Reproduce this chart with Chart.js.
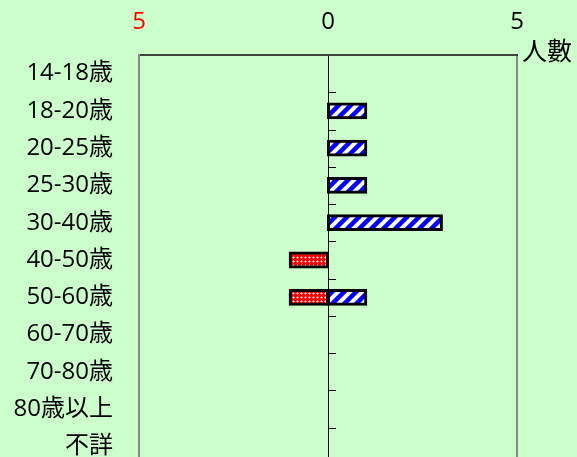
<!DOCTYPE html>
<html>
<head>
<meta charset="utf-8">
<script src="https://cdn.jsdelivr.net/npm/chart.js@4"></script>
<style>
html,body{margin:0;padding:0;background:#ccffcc;overflow:hidden;}
#wrap{width:577px;height:457px;overflow:hidden;}
</style>
</head>
<body>
<div id="wrap"><canvas id="c" width="577" height="470"></canvas></div>
<script>
const categories = ['14-18歳','18-20歳','20-25歳','25-30歳','30-40歳','40-50歳','50-60歳','60-70歳','70-80歳','80歳以上','不詳'];
const blueCounts = [0,1,1,1,3,0,1,0,0,0,0];
const redCounts  = [0,0,0,0,0,1,1,0,0,0,0];
const axisMin = -5, axisMax = 5, axisStep = 5;
const axisTitle = '人數';

function bluePattern(){
  const s = 12, c = document.createElement('canvas');
  c.width = s; c.height = s;
  const g = c.getContext('2d');
  g.fillStyle = '#ffffff'; g.fillRect(0,0,s,s);
  g.strokeStyle = '#0000ff'; g.lineWidth = 4.5;
  for (let x = -s; x <= s; x += s) {
    g.beginPath(); g.moveTo(x - 2, s + 2); g.lineTo(x + s + 2, -2); g.stroke();
  }
  return g.createPattern(c, 'repeat');
}
function redPattern(){
  const s = 4, c = document.createElement('canvas');
  c.width = s; c.height = s;
  const g = c.getContext('2d');
  g.fillStyle = '#ff0000'; g.fillRect(0,0,s,s);
  g.fillStyle = '#ff8080';
  g.fillRect(1,0,1,1); g.fillRect(0,1,1,1); g.fillRect(2,1,1,1); g.fillRect(1,2,1,1);
  g.fillStyle = '#ffffff'; g.fillRect(1,1,1,1);
  return g.createPattern(c, 'repeat');
}

const tickMarks = {
  id: 'tickMarks',
  afterDatasetsDraw(chart){
    const x = chart.scales.x, y = chart.scales.y, ctx = chart.ctx;
    const x0 = x.getPixelForValue(0);
    ctx.save();
    ctx.strokeStyle = '#000'; ctx.lineWidth = 1;
    for (let i = 1; i <= categories.length; i++) {
      const py = Math.round(y.getPixelForValue(i - 0.5)) + 0.5;
      ctx.beginPath(); ctx.moveTo(x0, py); ctx.lineTo(x0 + 8, py); ctx.stroke();
    }
    ctx.restore();
  },
  afterDraw(chart){
    const ctx = chart.ctx, a = chart.chartArea;
    ctx.save();
    ctx.font = '25px "Noto Sans CJK JP"';
    ctx.fillStyle = '#000';
    ctx.textAlign = 'left'; ctx.textBaseline = 'middle';
    ctx.fillText(axisTitle, a.right + 5, 50);
    ctx.restore();
  }
};

const nz = v => v === 0 ? null : v;
new Chart(document.getElementById('c'), {
  type: 'bar',
  data: {
    labels: categories,
    datasets: [
      { label: '女', data: redCounts.map(v => nz(-v)), backgroundColor: redPattern(),
        borderColor: '#000', borderWidth: 3, borderSkipped: false, inflateAmount: 1.5,
        barPercentage: 0.37, categoryPercentage: 1 },
      { label: '男', data: blueCounts.map(nz), backgroundColor: bluePattern(),
        borderColor: '#000', borderWidth: 3, borderSkipped: false, inflateAmount: 1.5,
        barPercentage: 0.37, categoryPercentage: 1 }
    ]
  },
  options: {
    indexAxis: 'y',
    responsive: false,
    animation: false,
    devicePixelRatio: 1,
    layout: { padding: { left: 0, right: 60, top: 0, bottom: 5 } },
    plugins: { legend: { display: false }, tooltip: { enabled: false } },
    scales: {
      x: {
        position: 'top', stacked: true, min: axisMin, max: axisMax,
        afterFit(s){ s.height = 55; s.paddingLeft = 0; s.paddingRight = 0; },
        ticks: {
          stepSize: axisStep, padding: 18, maxRotation: 0,
          font: { family: '"Open Sans", "Noto Sans CJK JP"', size: 24 },
          color: c => (c.tick && c.tick.value < 0) ? '#ff0000' : '#000000',
          callback: v => String(Math.abs(v))
        },
        grid: {
          drawTicks: false,
          color: c => (c.tick && c.tick.value === 0) ? '#000000' : '#888888',
          lineWidth: c => (c.tick && c.tick.value === 0) ? 1 : 2
        },
        border: { display: true, color: '#404040', width: 2 }
      },
      y: {
        stacked: true, offset: true,
        afterFit(s){ s.width = 139; s.paddingTop = 0; s.paddingBottom = 0; },
        ticks: {
          padding: 26,
          font: { family: '"Open Sans", "Noto Sans CJK JP"', size: 24 },
          color: '#000'
        },
        grid: { display: false, drawTicks: false },
        border: { display: true, color: '#888888', width: 2 }
      }
    }
  },
  plugins: [tickMarks]
});
</script>
</body>
</html>
